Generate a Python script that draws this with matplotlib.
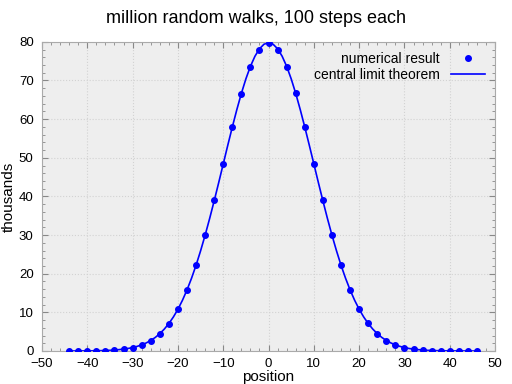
import matplotlib
matplotlib.use("Agg")
import matplotlib.pyplot as plt
from matplotlib.ticker import AutoMinorLocator

# positions of the walk after 100 steps (even only)
positions = list(range(-44, 47, 2))
# counts of walks ending there, in thousands
counts = [0.0, 0.0, 0.01, 0.04, 0.11, 0.23, 0.46, 0.87, 1.57, 2.71,
          4.48, 7.11, 10.84, 15.89, 22.32, 30.10, 38.98, 48.46, 57.95, 66.61,
          73.53, 78.01, 79.59, 78.02, 73.50, 66.65, 57.97, 48.47, 38.96, 30.11,
          22.34, 15.88, 10.85, 7.12, 4.46, 2.70, 1.57, 0.86, 0.46, 0.23,
          0.11, 0.05, 0.02, 0.01, 0.0, 0.0]

# gaussian curve, one value per integer position
curve_x = list(range(-44, 47))
curve_y = [0.0, 0.01, 0.01, 0.02, 0.03, 0.04, 0.06, 0.085, 0.12, 0.17,
           0.25, 0.35, 0.48, 0.65, 0.89, 1.19, 1.58, 2.08, 2.72, 3.50,
           4.48, 5.67, 7.10, 8.80, 10.80, 13.12, 15.79, 18.81, 22.18, 25.91,
           29.95, 34.28, 38.84, 43.57, 48.40, 53.22, 57.94, 62.45, 66.65, 70.42,
           73.66, 76.28, 78.21, 79.39, 79.79, 79.39, 78.21, 76.28, 73.66, 70.42,
           66.65, 62.45, 57.94, 53.22, 48.40, 43.57, 38.84, 34.28, 29.95, 25.91,
           22.18, 18.81, 15.79, 13.12, 10.80, 8.80, 7.10, 5.67, 4.48, 3.50,
           2.72, 2.08, 1.58, 1.19, 0.89, 0.65, 0.48, 0.35, 0.25, 0.17,
           0.12, 0.085, 0.06, 0.04, 0.03, 0.02, 0.01, 0.01, 0.0, 0.0, 0.0]

plt.rcParams['font.family'] = ['Liberation Sans', 'DejaVu Sans']

fig = plt.figure(figsize=(5.12, 3.84), dpi=100)
ax = fig.add_axes([0.082, 0.086, 0.885, 0.805])
ax.set_facecolor('#eeeeee')

ax.plot(positions, counts, 'o', color='#0000ff', markersize=4, label='numerical result', zorder=3)
ax.plot(curve_x, curve_y, '-', color='#0000ff', linewidth=1.2, label='central limit theorem', zorder=2)

ax.set_xlim(-50, 50)
ax.set_ylim(0, 80)
ax.set_xticks(range(-50, 51, 10))
ax.set_yticks(range(0, 81, 10))
ax.xaxis.set_minor_locator(AutoMinorLocator(5))
ax.yaxis.set_minor_locator(AutoMinorLocator(5))
ax.tick_params(which='both', direction='in', top=True, right=True, color='#888888', labelsize=9.5)
ax.tick_params(which='major', length=4)
ax.tick_params(which='minor', length=2)
ax.tick_params(axis='x', which='major', pad=5)
ax.tick_params(axis='y', which='major', pad=6)
ax.grid(True, which='major', linestyle=':', color='#d2d2d2', linewidth=0.8)
for s in ax.spines.values():
    s.set_color('#aaaaaa')

ax.set_xlabel('position', fontsize=11, labelpad=0)
ax.set_ylabel('thousands', fontsize=11, labelpad=2)
fig.suptitle('million random walks, 100 steps each', fontsize=13, y=0.975)

ax.legend(loc='upper right', frameon=False, markerfirst=False, fontsize=10,
          handlelength=2.5, borderaxespad=0.3, labelspacing=0.2)

fig.savefig('out.png', dpi=100)
